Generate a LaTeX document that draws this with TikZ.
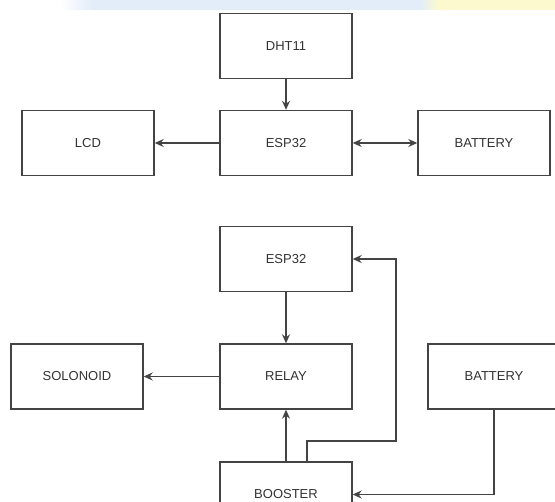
\documentclass[tikz,border=0pt]{standalone}
\usepackage{fontspec}
\setmainfont{Liberation Sans}
\usetikzlibrary{arrows.meta}
\definecolor{ln}{HTML}{444444}
\definecolor{tx}{HTML}{333333}
\definecolor{wmb}{HTML}{E3EDFA}
\definecolor{wmy}{HTML}{FCF9CF}
\begin{document}
\begin{tikzpicture}[x=1pt,y=-1pt,
  box/.style={draw=ln,line width=1.4pt,minimum width=132pt,minimum height=65pt,inner sep=0pt,text=tx,font=\fontsize{13}{15}\selectfont},
  tip/.tip={Stealth[length=9pt,width=8pt,inset=3pt]},
  conn/.style={draw=ln,line width=1.4pt,-tip},
  dconn/.style={draw=ln,line width=1.4pt,tip-tip}]
\path[use as bounding box] (0,0) rectangle (555,502);
\fill[white] (0,0) rectangle (555,502);
% faint watermark band at top
\shade[left color=white,right color=wmb] (60,0) rectangle (92,10);
\fill[wmb] (92,0) rectangle (420,10);
\shade[left color=wmb,right color=wmy] (420,0) rectangle (438,10);
\fill[wmy] (438,0) rectangle (555,10);
\begin{scope}
\clip (0,0) rectangle (555,502);
\node[box] (dht) at (286,46) {DHT11};
\node[box] (esp1) at (286,143) {ESP32};
\node[box] (lcd) at (88,143) {LCD};
\node[box] (bat1) at (484,143) {BATTERY};
\node[box] (esp2) at (286,259) {ESP32};
\node[box] (relay) at (286,376.5) {RELAY};
\node[box] (sol) at (77,376.5) {SOLONOID};
\node[box] (bat2) at (494,376.5) {BATTERY};
\node[box] (boost) at (286,494.5) {BOOSTER};
\draw[conn] (dht) -- (esp1);
\draw[conn] (esp1) -- (lcd);
\draw[dconn] (esp1) -- (bat1);
\draw[conn] (esp2) -- (relay);
\draw[conn] (relay) -- (sol);
\draw[conn] (boost) -- (relay);
\coordinate (bt) at ([xshift=21pt]boost.north);
\draw[conn] (bt) |- (396,441) |- (esp2.east);
\draw[conn] (bat2.south) |- (boost.east);
\end{scope}
\end{tikzpicture}
\end{document}
